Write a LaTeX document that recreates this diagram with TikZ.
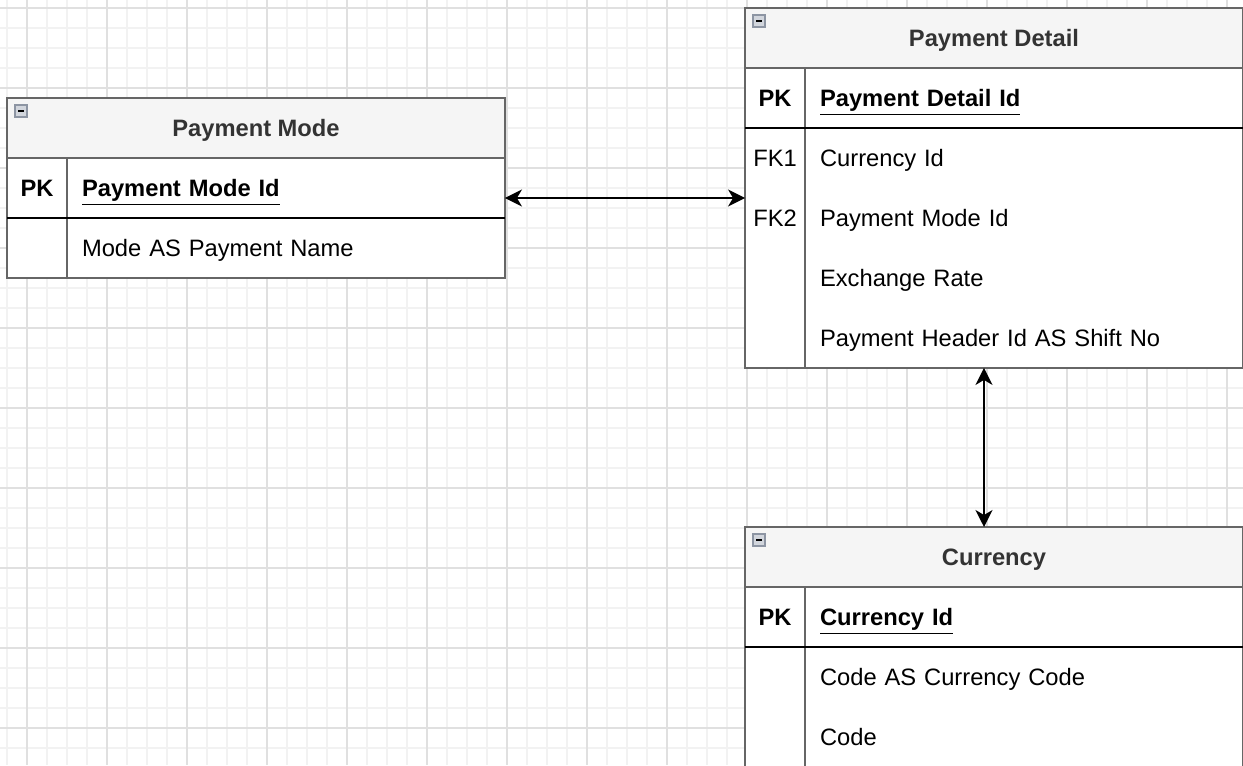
\documentclass[tikz,border=0pt]{standalone}
\usepackage{fontspec}
\setmainfont{Liberation Sans}
\usetikzlibrary{calc,positioning}
\usetikzlibrary{arrows.meta}

\definecolor{gridfinecol}{HTML}{F2F2F2}
\definecolor{gridboldcol}{HTML}{E0E0E0}
\definecolor{framegray}{HTML}{666666}
\definecolor{headfill}{HTML}{F5F5F5}
\definecolor{titlegray}{HTML}{333333}
\definecolor{iconfill}{HTML}{D2D6DD}
\definecolor{iconline}{HTML}{8D95A3}
\newcommand{\erdsize}{\fontsize{13.5}{16}\selectfont}

\begin{document}
\begin{tikzpicture}[x=0.02cm, y=-0.02cm,
  head/.style = {draw=framegray, line width=1pt, fill=headfill, minimum width=9.96cm, minimum height=1.2cm, inner sep=0, outer sep=0, text height=0.44cm, text depth=0.1cm, text=titlegray, font=\erdsize\bfseries},
  keycell/.style = {fill=white, minimum width=1.2cm, minimum height=1.2cm, inner sep=0, outer sep=0, text height=0.44cm, text depth=0.1cm},
  fieldcell/.style = {fill=white, minimum height=1.2cm, text width=8.16cm, inner xsep=0.3cm, inner ysep=0, outer sep=0, text height=0.44cm, text depth=0.1cm, align=left},
  frame/.style = {draw=framegray, line width=1pt},
  pkline/.style = {draw=black, line width=0.8pt},
  gridfine/.style = {draw=gridfinecol, line width=0.6pt},
  gridbold/.style = {draw=gridboldcol, line width=0.6pt},
  rel/.style = {<->, >={Stealth[length=0.34cm, width=0.34cm, inset=0.1cm]}, line width=1pt},
  collapse/.style = {draw=iconline, fill=iconfill, line width=0.8pt, minimum size=0.24cm, inner sep=0, path picture={\draw[black, line width=1pt] ([xshift=0.06cm]path picture bounding box.west) -- ([xshift=-0.06cm]path picture bounding box.east);}},
  font=\erdsize, node distance=1.2cm]

\useasboundingbox (0,0) rectangle (1243,765);

% grid
\foreach \gx in {7,27,...,1247} \draw[gridfine] (\gx,0) -- (\gx,765);
\foreach \gy in {8,28,...,768} \draw[gridfine] (0,\gy) -- (1243,\gy);
\foreach \gx in {27,107,...,1227} \draw[gridbold] (\gx,0) -- (\gx,765);
\foreach \gy in {8,88,...,728} \draw[gridbold] (0,\gy) -- (1243,\gy);

% Payment Mode
\node[head](pm) at (256,128){Payment Mode};
\node[keycell, anchor=north west](pmk1) at (pm.south west){\textbf{PK}};
\node[keycell, below of=pmk1](pmk2){};
\node[fieldcell, right=0pt of pmk1](pmf1){\textbf{\underline{Payment Mode Id}}};
\node[fieldcell, right=0pt of pmk2](pmf2){Mode AS Payment Name};
\node[collapse](pmicon) at ([shift={(14,13)}]pm.north west){};

\draw[frame] (pm.north west) rectangle (pmf2.south east);
\draw[frame] (pm.south west) -- (pm.south east);
\draw[frame] (pmk1.north east) -- (pmk2.south east);
\draw[pkline] (pmk1.south west) -- (pmf1.south east);

% Payment Detail
\node[head](pd) at (994,38){Payment Detail};
\node[keycell, anchor=north west](pdk1) at (pd.south west){\textbf{PK}};
\node[keycell, below of=pdk1](pdk2){FK1};
\node[keycell, below of=pdk2](pdk3){FK2};
\node[keycell, below of=pdk3](pdk4){};
\node[keycell, below of=pdk4](pdk5){};
\node[fieldcell, right=0pt of pdk1](pdf1){\textbf{\underline{Payment Detail Id}}};
\node[fieldcell, right=0pt of pdk2](pdf2){Currency Id};
\node[fieldcell, right=0pt of pdk3](pdf3){Payment Mode Id};
\node[fieldcell, right=0pt of pdk4](pdf4){Exchange Rate};
\node[fieldcell, right=0pt of pdk5](pdf5){Payment Header Id AS Shift No};
\node[collapse](pdicon) at ([shift={(14,13)}]pd.north west){};

\draw[frame] (pd.north west) rectangle (pdf5.south east);
\draw[frame] (pd.south west) -- (pd.south east);
\draw[frame] (pdk1.north east) -- (pdk5.south east);
\draw[pkline] (pdk1.south west) -- (pdf1.south east);

% Currency
\node[head](cur) at (994,557){Currency};
\node[keycell, anchor=north west](curk1) at (cur.south west){\textbf{PK}};
\node[keycell, below of=curk1](curk2){};
\node[keycell, below of=curk2](curk3){};
\node[fieldcell, right=0pt of curk1](curf1){\textbf{\underline{Currency Id}}};
\node[fieldcell, right=0pt of curk2](curf2){Code AS Currency Code};
\node[fieldcell, right=0pt of curk3](curf3){Code};
\node[collapse](curicon) at ([shift={(14,13)}]cur.north west){};

\draw[frame] (cur.north west) rectangle (curf3.south east);
\draw[frame] (cur.south west) -- (cur.south east);
\draw[frame] (curk1.north east) -- (curk3.south east);
\draw[pkline] (curk1.south west) -- (curf1.south east);

% links
\coordinate (pmlink) at ($(pmf1.east)+(0,10)$);
\draw[rel] (pmlink) -- (pmlink -| pdk1.west);
\coordinate (curlink) at ($(pd.center |- pdf5.south)+(-10,0)$);
\draw[rel] (curlink) -- (curlink |- cur.north);

\end{tikzpicture}
\end{document}
